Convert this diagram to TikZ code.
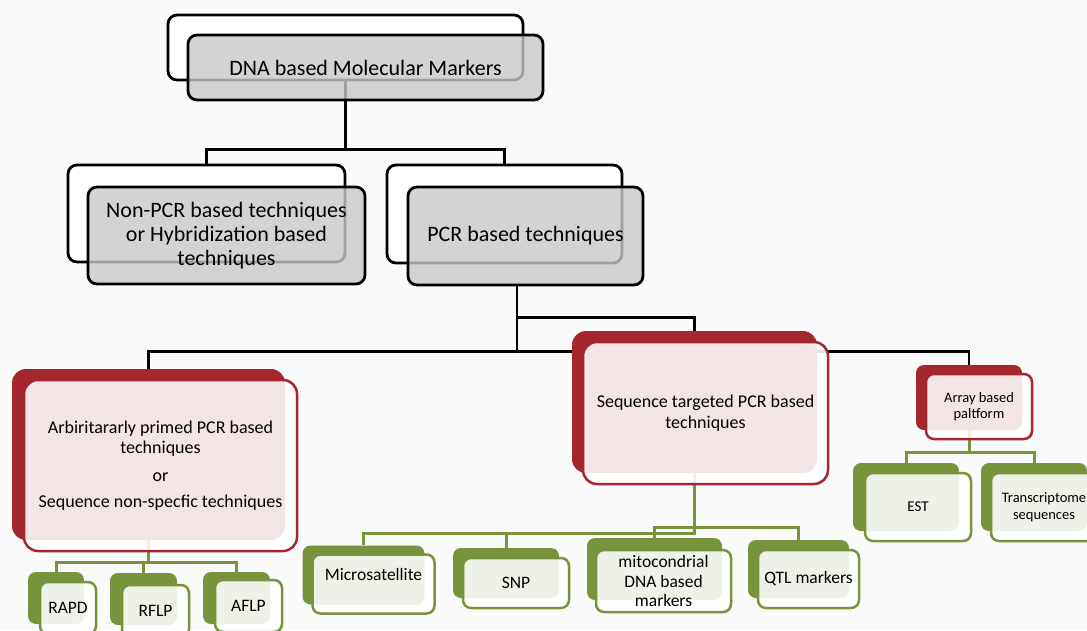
\documentclass[tikz,border=0pt]{standalone}
\usepackage{fontspec}
\setmainfont{Carlito}
\definecolor{corfundo}{RGB}{250,250,250}
\definecolor{corcinza}{RGB}{200,200,200}
\definecolor{corvermelho}{RGB}{163,39,44}
\definecolor{corverde}{RGB}{119,147,60}
\pgfdeclarelayer{papel}
\pgfdeclarelayer{linhas}
\pgfsetlayers{papel,linhas,main}

\begin{document}
\begin{tikzpicture}[x=1pt, y=-1pt,
  tam/.style 2 args={minimum width=#1, minimum height=#2, inner sep=0pt},
  cinzatras/.style={draw=black, line width=2.8pt, fill=white, rounded corners=9pt},
  cinzafrente/.style={draw=black, line width=2.8pt, fill=corcinza, fill opacity=0.8, text opacity=1, rounded corners=9pt, align=center, font=\fontsize{22}{24}\selectfont},
  vermtras/.style={fill=corvermelho, rounded corners=14pt},
  vermfrente/.style={draw=corvermelho, line width=2.5pt, fill=white, fill opacity=0.88, text opacity=1, rounded corners=14pt, align=center},
  verdetras/.style={fill=corverde, rounded corners=8pt},
  verdefrente/.style={draw=corverde, line width=2.5pt, fill=white, fill opacity=0.88, text opacity=1, rounded corners=8pt, align=center, font=\fontsize{17.5}{19.5}\selectfont},
  linhapreta/.style={draw=black, line width=2.8pt},
  linhaverde/.style={draw=corverde, line width=3pt}]

  \begin{pgfonlayer}{papel}
    \fill[corfundo] (0,0) rectangle (1087,630);
  \end{pgfonlayer}
  \useasboundingbox (0,0) rectangle (1087,630);
  \clip (0,0) rectangle (1087,630);

  % nivel 1
  \node [cinzatras, tam={355pt}{65pt}] (dnab) at (345.5,47.5) {};
  \node [cinzafrente, tam={355pt}{65pt}] (dna) at ([shift={(20,20)}]dnab.center) {DNA based Molecular Markers};

  % nivel 2
  \node [cinzatras, tam={277pt}{97pt}] (nonpcrb) at (206.5,213.5) {};
  \node [cinzafrente, tam={277pt}{97pt}] (nonpcr) at ([shift={(20,22)}]nonpcrb.center) {Non-PCR based techniques\\or Hybridization based\\techniques};
  \node [cinzatras, tam={235pt}{98pt}] (pcrb) at (504.5,214) {};
  \node [cinzafrente, tam={235pt}{98pt}] (pcr) at ([shift={(21,22)}]pcrb.center) {PCR based techniques};

  % nivel 3
  \node [vermtras, tam={273pt}{171pt}] (arbb) at (148.5,454.5) {};
  \node [vermfrente, tam={273pt}{171pt}, font=\fontsize{18}{20}\selectfont] (arb) at ([shift={(12,11)}]arbb.center)
    {Arbiritararly primed PCR based\\techniques\\[8pt]or\\[6pt]Sequence non-specfic techniques};
  \node [vermtras, tam={245pt}{142pt}] (seqb) at (694.5,402) {};
  \node [vermfrente, tam={245pt}{142pt}, font=\fontsize{18}{21}\selectfont] (seq) at ([shift={(11,11)}]seqb.center)
    {Sequence targeted PCR based\\techniques};
  \node [vermtras, tam={106pt}{65pt}, rounded corners=8pt] (arrb) at (969,397.5) {};
  \node [vermfrente, tam={106pt}{65pt}, rounded corners=8pt, font=\fontsize{14.5}{16}\selectfont] (arr) at ([shift={(10,9)}]arrb.center)
    {Array based\\paltform};

  % nivel 4
  \node [verdetras, tam={56pt}{52pt}] (rapdb) at (56,598) {};
  \node [verdefrente, tam={56pt}{52pt}] (rapd) at ([shift={(12,10)}]rapdb.center) {RAPD};
  \node [verdetras, tam={67pt}{52pt}] (rflpb) at (143.5,599) {};
  \node [verdefrente, tam={67pt}{52pt}] (rflp) at ([shift={(12,12)}]rflpb.center) {RFLP};
  \node [verdetras, tam={67pt}{52pt}] (aflpb) at (236.5,598) {};
  \node [verdefrente, tam={67pt}{52pt}] (aflp) at ([shift={(12,8)}]aflpb.center) {AFLP};

  \node [verdetras, tam={122pt}{59pt}] (microb) at (363.5,575) {};
  \node [verdefrente, tam={122pt}{59pt}, text depth=20pt] (micro) at ([shift={(10,9)}]microb.center) {Microsatellite};
  \node [verdetras, tam={106pt}{50pt}] (snpb) at (506,573) {};
  \node [verdefrente, tam={106pt}{50pt}] (snp) at ([shift={(10,10)}]snpb.center) {SNP};
  \node [verdetras, tam={135pt}{62pt}] (mitob) at (654.5,569) {};
  \node [verdefrente, tam={135pt}{62pt}] (mito) at ([shift={(9,12)}]mitob.center) {mitocondrial\\DNA based\\markers};
  \node [verdetras, tam={101pt}{58pt}] (qtlb) at (798.5,569) {};
  \node [verdefrente, tam={101pt}{58pt}] (qtl) at ([shift={(10,10)}]qtlb.center) {QTL markers};

  \node [verdetras, tam={106pt}{68pt}] (estb) at (906,497) {};
  \node [verdefrente, tam={106pt}{68pt}, font=\fontsize{15}{17}\selectfont] (est) at ([shift={(12,10)}]estb.center) {EST};
  \node [verdetras, tam={106pt}{68pt}] (transb) at (1034,497) {};
  \node [verdefrente, tam={106pt}{68pt}, font=\fontsize{14.5}{16.5}\selectfont] (trans) at ([shift={(10,10)}]transb.center) {Transcriptome\\sequences};

  % ligacoes
  \begin{pgfonlayer}{linhas}
    \draw [linhapreta] (dnab.south) -- ++(0,68) -| (nonpcrb.north);
    \draw [linhapreta] (dnab.south) -- ++(0,68) -| (pcrb.north);
    \draw [linhapreta] ([xshift=-8.5pt]pcr.south) -- ++(0,31) -| (seqb.north);
    \draw [linhapreta] ([xshift=-8.5pt]pcr.south) -- ++(0,65) -| (arbb.north);
    \draw [linhapreta] ([xshift=-8.5pt]pcr.south) -- ++(0,65) -| (arrb.north);
    \foreach \filho in {rapdb,rflpb,aflpb}
      \draw [linhaverde] (arbb.south) -- ++(0,22) -| (\filho.north);
    \foreach \filho in {microb,snpb}
      \draw [linhaverde] (seqb.south) -- ++(0,60) -| (\filho.north);
    \foreach \filho in {mitob,qtlb}
      \draw [linhaverde] (seqb.south) -- ++(0,54) -| (\filho.north);
    \foreach \filho in {estb,transb}
      \draw [linhaverde] (arrb.south) -- ++(0,22) -| (\filho.north);
  \end{pgfonlayer}
\end{tikzpicture}
\end{document}
